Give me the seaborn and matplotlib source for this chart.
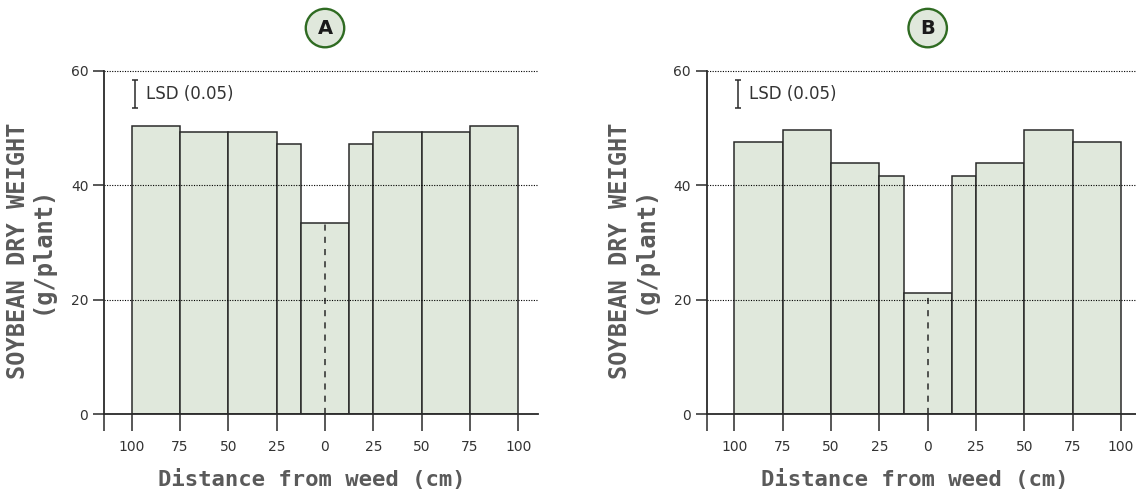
import numpy as np
import matplotlib
matplotlib.use("Agg")
import matplotlib.pyplot as plt
import seaborn as sns

# ---------------- data ----------------
distance_edges_cm = [-100, -75, -50, -25, -12.5, 12.5, 25, 50, 75, 100]
weight_A = [50.3, 49.4, 49.4, 47.3, 33.4, 47.3, 49.4, 49.4, 50.3]
weight_B = [47.6, 49.6, 44.0, 41.7, 21.2, 41.7, 44.0, 49.6, 47.6]
panel_letters = ["A", "B"]
x_tick_values = [-100, -75, -50, -25, 0, 25, 50, 75, 100]
x_tick_labels = ["100", "75", "50", "25", "0", "25", "50", "75", "100"]
y_tick_values = [0, 20, 40, 60]
lsd_value = 4.8
lsd_label = "LSD (0.05)"
x_label = "Distance from weed (cm)"
y_label = "SOYBEAN DRY WEIGHT\n(g/plant)"

# ---------------- style ----------------
sns.set_style("white")
plt.rcParams["font.family"] = ["DejaVu Sans"]

FILL = "#e0e8dc"
EDGE = "#2a2a2a"
GREEN = "#2f6b22"
LABEL_GRAY = "#5a5a5a"
TICK_COL = "#333333"

fig = plt.figure(figsize=(11.36, 4.95), dpi=100)
W, H = 1136, 495
XMIN, XMAX = -114.2, 110.0
YMIN, YMAX = 0, 61
px_per_y = 5.722
px_per_x = 1.9325
ax_w = (XMAX - XMIN) * px_per_x
ax_h = (YMAX - YMIN) * px_per_y
bottom_px = H - 414.3
lefts_px = [104.3, 707.0]

centers = [(a + b) / 2 for a, b in zip(distance_edges_cm[:-1], distance_edges_cm[1:])]
center_idx = len(centers) // 2

for letter, vals, left_px in zip(panel_letters, [weight_A, weight_B], lefts_px):
    ax = fig.add_axes([left_px / W, bottom_px / H, ax_w / W, ax_h / H])
    sns.histplot(x=centers, weights=vals, bins=distance_edges_cm, ax=ax,
                 color=FILL, edgecolor=EDGE, linewidth=1.1, alpha=1.0,
                 stat="count", zorder=1)
    ax.set_xlim(XMIN, XMAX)
    ax.set_ylim(YMIN, YMAX)

    # gridlines above bars
    ax.set_axisbelow(False)
    ax.yaxis.grid(True, linestyle=(0, (1, 1.3)), color="black", linewidth=0.8)
    ax.xaxis.grid(False)

    # spines
    for s in ["top", "right"]:
        ax.spines[s].set_visible(False)
    ax.spines["left"].set_bounds(0, 60)
    for s in ["left", "bottom"]:
        ax.spines[s].set_color(EDGE)
        ax.spines[s].set_linewidth(1.3)
        ax.spines[s].set_zorder(3)

    # ticks
    ax.set_xticks([XMIN] + x_tick_values)
    ax.set_xticklabels([""] + x_tick_labels)
    ax.set_yticks(y_tick_values)
    ax.set_yticklabels([str(v) for v in y_tick_values])
    ax.tick_params(axis="x", direction="out", length=12, width=1.1, color=EDGE,
                   labelsize=10, labelcolor=TICK_COL, pad=6.5, bottom=True)
    ax.tick_params(axis="y", direction="out", length=8, width=1.1, color=EDGE,
                   labelsize=10, labelcolor=TICK_COL, pad=3.5, left=True)

    # center dashed line
    ax.vlines(0, 0, vals[center_idx], colors=EDGE, linestyles=(0, (4, 4)),
              linewidth=1.1, zorder=2)

    # LSD bar
    ax.errorbar([-98.3], [56.0], yerr=[lsd_value / 2], fmt="none", ecolor=EDGE,
                elinewidth=1.1, capsize=2.3, capthick=1.1, zorder=4)
    ax.text(-92.5, 56.0, lsd_label, fontsize=12, color=TICK_COL,
            ha="left", va="center", zorder=4)

    # panel letter in circle
    ax.text(0, 67.5, letter, fontsize=14, fontweight="bold", color="#1a1a1a",
            ha="center", va="center", clip_on=False,
            bbox=dict(boxstyle="circle,pad=0.5", fc=FILL, ec=GREEN, lw=1.7))

    # axis labels
    ax.set_xlabel(x_label, fontsize=16, fontweight="bold", color=LABEL_GRAY,
                  family="DejaVu Sans Mono")
    ax.xaxis.label.set_va("center")
    ax.xaxis.set_label_coords(0.48, -0.188)
    ax.set_ylabel(y_label, fontsize=17, fontweight="bold", color=LABEL_GRAY,
                  family="DejaVu Sans Mono", linespacing=1.0)
    ax.yaxis.label.set_va("center")
    ax.yaxis.set_label_coords(-0.172, 0.47)

fig.savefig("out.png", dpi=100)
